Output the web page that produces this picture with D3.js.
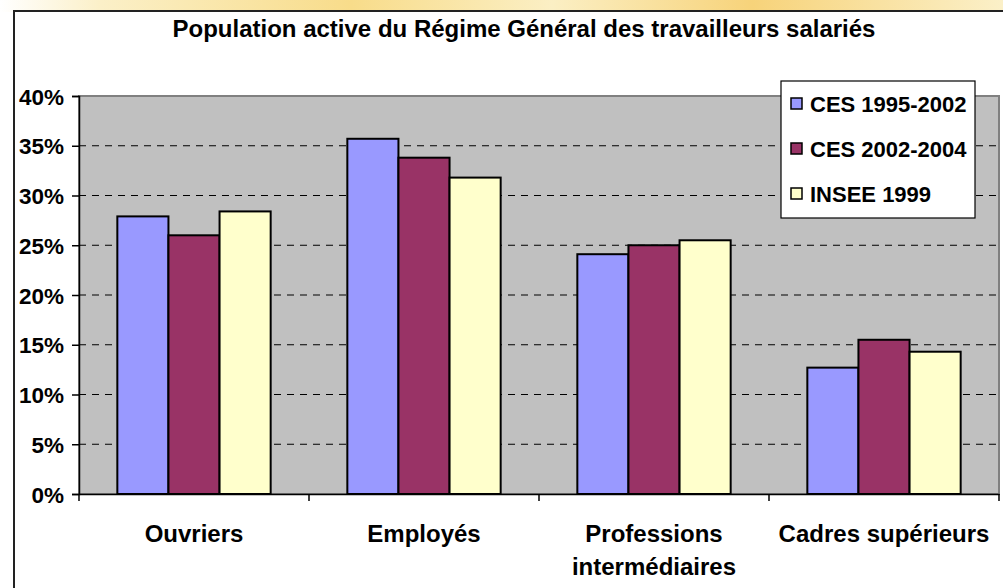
<!DOCTYPE html>
<html>
<head>
<meta charset="utf-8">
<script src="https://d3js.org/d3.v7.min.js"></script>
<style>
  body { margin: 0; background: #fff; }
  text { font-family: "Liberation Sans", Arial, sans-serif; font-weight: bold; fill: #000; }
</style>
</head>
<body>
<svg width="1003" height="588"></svg>
<script>
var categories = ["Ouvriers", "Employés", "Professions intermédiaires", "Cadres supérieurs"];
var seriesNames = ["CES 1995-2002", "CES 2002-2004", "INSEE 1999"];
var ces9502 = [27.9, 35.7, 24.1, 12.7];
var ces0204 = [26.0, 33.8, 25.0, 15.5];
var insee99 = [28.4, 31.8, 25.5, 14.3];
var yTicks = [0, 5, 10, 15, 20, 25, 30, 35, 40];
var colors = ["#9999FF", "#993366", "#FFFFCC"];

var series = [ces9502, ces0204, insee99];

var svg = d3.select("svg");

// slide background bleeding in at the top
var defs = svg.append("defs");
var grad = defs.append("linearGradient").attr("id", "topbg");
grad.append("stop").attr("offset", "0%").attr("stop-color", "#ffffff");
grad.append("stop").attr("offset", "10%").attr("stop-color", "#fbf0c8");
grad.append("stop").attr("offset", "35%").attr("stop-color", "#f8dc8a");
grad.append("stop").attr("offset", "55%").attr("stop-color", "#fbefc4");
grad.append("stop").attr("offset", "75%").attr("stop-color", "#f7d37a");
grad.append("stop").attr("offset", "100%").attr("stop-color", "#fbf0c8");
svg.append("rect").attr("x", 0).attr("y", 0).attr("width", 1003).attr("height", 12)
  .attr("fill", "url(#topbg)");

// chart frame
svg.append("rect").attr("x", 14).attr("y", 11).attr("width", 1000).attr("height", 590)
  .attr("fill", "#fff").attr("stroke", "#222").attr("stroke-width", 2);

svg.append("text")
  .attr("x", 524).attr("y", 37)
  .attr("text-anchor", "middle")
  .style("font-size", "24px")
  .text("Population active du Régime Général des travailleurs salariés");

var margin = {left: 79, top: 96, right: 999, bottom: 494};

var x0 = d3.scaleBand().domain(categories).range([margin.left, margin.right]);
var x1 = d3.scaleBand().domain(seriesNames)
  .range([0, x0.bandwidth()])
  .paddingInner(0).paddingOuter(0.75);
var y = d3.scaleLinear().domain([0, 40]).range([margin.bottom, margin.top]);

// plot area
svg.append("rect")
  .attr("x", margin.left).attr("y", margin.top)
  .attr("width", margin.right - margin.left).attr("height", margin.bottom - margin.top)
  .attr("fill", "#c0c0c0").attr("stroke", "#808080").attr("stroke-width", 2);

// gridlines
svg.append("g").selectAll("line")
  .data(yTicks.filter(function(d) { return d > 0 && d < 40; }))
  .join("line")
  .attr("x1", margin.left).attr("x2", margin.right)
  .attr("y1", function(d) { return y(d); }).attr("y2", function(d) { return y(d); })
  .attr("stroke", "#000").attr("stroke-width", 1.2)
  .attr("stroke-dasharray", "7,6");

// bars
var groups = svg.append("g").selectAll("g")
  .data(categories)
  .join("g")
  .attr("transform", function(d) { return "translate(" + x0(d) + ",0)"; });

groups.selectAll("rect")
  .data(function(c, i) { return seriesNames.map(function(s, j) { return {s: s, v: series[j][i], c: colors[j]}; }); })
  .join("rect")
  .attr("x", function(d) { return x1(d.s); })
  .attr("width", x1.bandwidth())
  .attr("y", function(d) { return y(d.v); })
  .attr("height", function(d) { return y(0) - y(d.v); })
  .attr("fill", function(d) { return d.c; })
  .attr("stroke", "#000").attr("stroke-width", 2);

// y axis
var yAxis = svg.append("g")
  .attr("transform", "translate(" + margin.left + ",0)")
  .call(d3.axisLeft(y).tickValues(yTicks).tickSize(7).tickPadding(8)
    .tickFormat(function(d) { return d + "%"; }));
yAxis.select(".domain").attr("stroke", "#000").attr("stroke-width", 1.5);
yAxis.selectAll(".tick line").attr("stroke", "#000").attr("stroke-width", 1.5);
yAxis.selectAll("text")
  .style("font-size", "22.5px").style("font-family", "'Liberation Sans', Arial, sans-serif")
  .style("font-weight", "bold").attr("fill", "#000").attr("dy", "0.36em");

// x axis
var xAxis = svg.append("g")
  .attr("transform", "translate(0," + margin.bottom + ")")
  .call(d3.axisBottom(x0).tickSize(0).tickFormat(""));
xAxis.select(".domain").attr("stroke", "#000").attr("stroke-width", 1.5);
xAxis.selectAll(".tick").remove();
svg.append("g").selectAll("line")
  .data(categories.map(function(c) { return x0(c); }).concat([margin.right]))
  .join("line")
  .attr("x1", function(d) { return d; }).attr("x2", function(d) { return d; })
  .attr("y1", margin.bottom).attr("y2", margin.bottom + 7)
  .attr("stroke", "#000").attr("stroke-width", 1.5);

var xLabels = svg.append("g").selectAll("text")
  .data(categories)
  .join("text")
  .attr("text-anchor", "middle")
  .attr("x", function(d) { return x0(d) + x0.bandwidth() / 2; })
  .attr("y", 542)
  .style("font-size", "24px");
xLabels.each(function(d) {
  var t = d3.select(this);
  var lines = d === "Professions intermédiaires" ? ["Professions", "intermédiaires"] : [d];
  lines.forEach(function(l, i) {
    t.append("tspan").attr("x", x0(d) + x0.bandwidth() / 2).attr("dy", i === 0 ? 0 : 33).text(l);
  });
});

// legend
var legend = svg.append("g").attr("transform", "translate(781,81)");
legend.append("rect").attr("width", 194).attr("height", 137)
  .attr("fill", "#fff").attr("stroke", "#000").attr("stroke-width", 1.2);
var items = legend.selectAll("g.item")
  .data(seriesNames)
  .join("g").attr("class", "item")
  .attr("transform", function(d, i) { return "translate(10," + (23 + i * 45) + ")"; });
items.append("rect")
  .attr("x", 0).attr("y", -6).attr("width", 11).attr("height", 11)
  .attr("fill", function(d, i) { return colors[i]; })
  .attr("stroke", "#000").attr("stroke-width", 1.5);
items.append("text")
  .attr("x", 19).attr("y", 0).attr("dy", "0.36em")
  .style("font-size", "22px")
  .text(function(d) { return d; });
</script>
</body>
</html>
